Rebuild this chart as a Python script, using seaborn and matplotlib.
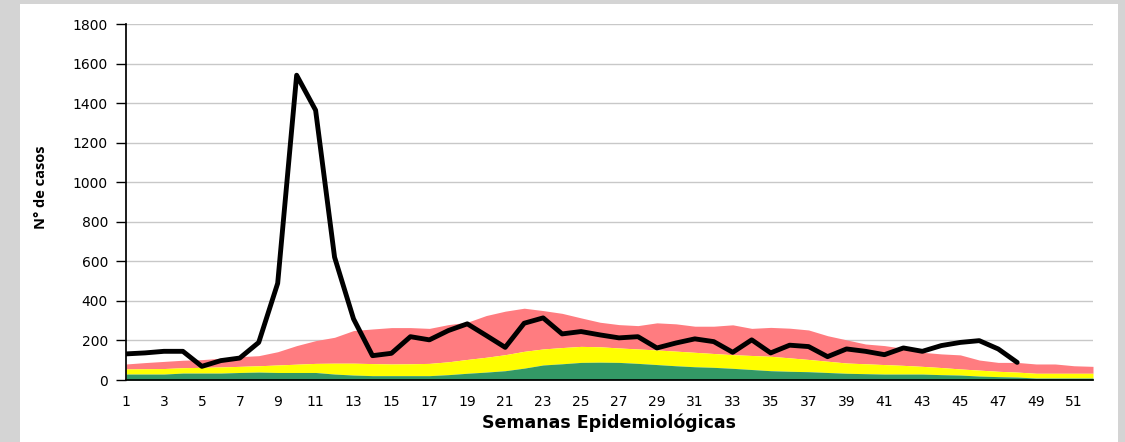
import numpy as np
import pandas as pd
import seaborn as sns
import matplotlib.pyplot as plt
from matplotlib.patches import Rectangle

# semanas epidemiologicas
semanas = list(range(1, 53))

# casos notificados (semanas 1-48)
casos = [132, 137, 145, 145, 69, 98, 111, 190, 489, 1541, 1364, 621, 309, 123, 135, 219,
         203, 250, 284, 225, 165, 287, 314, 233, 245, 228, 213, 219, 162, 187, 208, 194,
         140, 203, 137, 176, 169, 118, 157, 145, 128, 162, 145, 174, 190, 199, 157, 89]

# limites del canal endemico (acumulados)
exito = [30, 30, 30, 35, 35, 35, 38, 40, 38, 38, 38, 30, 25, 22, 22, 22, 22, 27, 34, 40,
         47, 60, 76, 82, 89, 90, 89, 84, 78, 72, 67, 64, 59, 53, 47, 44, 42, 38, 34, 32,
         30, 30, 30, 27, 25, 20, 17, 15, 10, 10, 10, 10]
seguridad = [56, 57, 58, 62, 64, 66, 69, 72, 76, 80, 84, 85, 85, 83, 81, 82, 84, 92, 104, 115,
             128, 145, 157, 164, 170, 168, 162, 157, 152, 146, 140, 134, 128, 124, 120, 112,
             104, 95, 86, 82, 78, 74, 69, 63, 56, 50, 44, 40, 34, 34, 34, 34]
alarma = [81, 88, 94, 100, 103, 110, 118, 123, 143, 174, 199, 216, 250, 258, 265, 265, 261,
          280, 292, 326, 348, 363, 351, 337, 314, 292, 280, 275, 289, 284, 272, 272, 279, 261,
          266, 262, 253, 224, 203, 182, 174, 160, 140, 132, 127, 101, 89, 89, 81, 81, 72, 69]

df = pd.DataFrame({'semana': semanas[:len(casos)], 'casos': casos})

sns.set_theme(style='white')
plt.rcParams['font.family'] = ['DejaVu Sans']
plt.rcParams.update({'text.color': 'black', 'axes.labelcolor': 'black',
                     'xtick.color': 'black', 'ytick.color': 'black'})

fig = plt.figure(figsize=(11.25, 4.42), dpi=100)
fig.patch.set_facecolor('#d4d4d4')
fig.add_artist(Rectangle((20 / 1125, 0), 1098 / 1125, 438 / 442, transform=fig.transFigure,
                         facecolor='white', edgecolor='none', zorder=-10))
ax = fig.add_axes([126 / 1125, 1 - 380 / 442, (1093 - 126) / 1125, 356 / 442])
ax.set_facecolor('white')

ax.fill_between(semanas, seguridad, alarma, color='#ff7c80', lw=0, zorder=1)
ax.fill_between(semanas, exito, seguridad, color='#ffff00', lw=0, zorder=1)
ax.fill_between(semanas, 0, exito, color='#339966', lw=0, zorder=1)

sns.lineplot(data=df, x='semana', y='casos', color='black', lw=3.5, ax=ax, zorder=3)

ax.set_xlim(1, 52)
ax.set_ylim(0, 1800)
ax.set_yticks(range(0, 1801, 200))
ax.set_xticks(range(1, 52, 2))
ax.yaxis.grid(True, color='#c8c8c8', lw=1)
ax.set_axisbelow(True)
for s in ['top', 'right']:
    ax.spines[s].set_visible(False)
ax.spines['left'].set_color('black')
ax.spines['bottom'].set_color('black')
ax.tick_params(axis='y', left=True, length=7, width=1, color='black', labelsize=10, pad=6)
ax.tick_params(axis='x', bottom=False, labelsize=10, pad=5)

ax.set_xlabel('Semanas Epidemiológicas', fontsize=12.5, fontweight='bold')
ax.xaxis.set_label_coords(0.5, -0.095)
ax.set_ylabel('N° de casos', fontsize=10.5, fontweight='bold', family='Open Sans')
ax.yaxis.set_label_coords(-0.081, 0.542)

plt.savefig('out.png', dpi=100, facecolor=fig.get_facecolor())
